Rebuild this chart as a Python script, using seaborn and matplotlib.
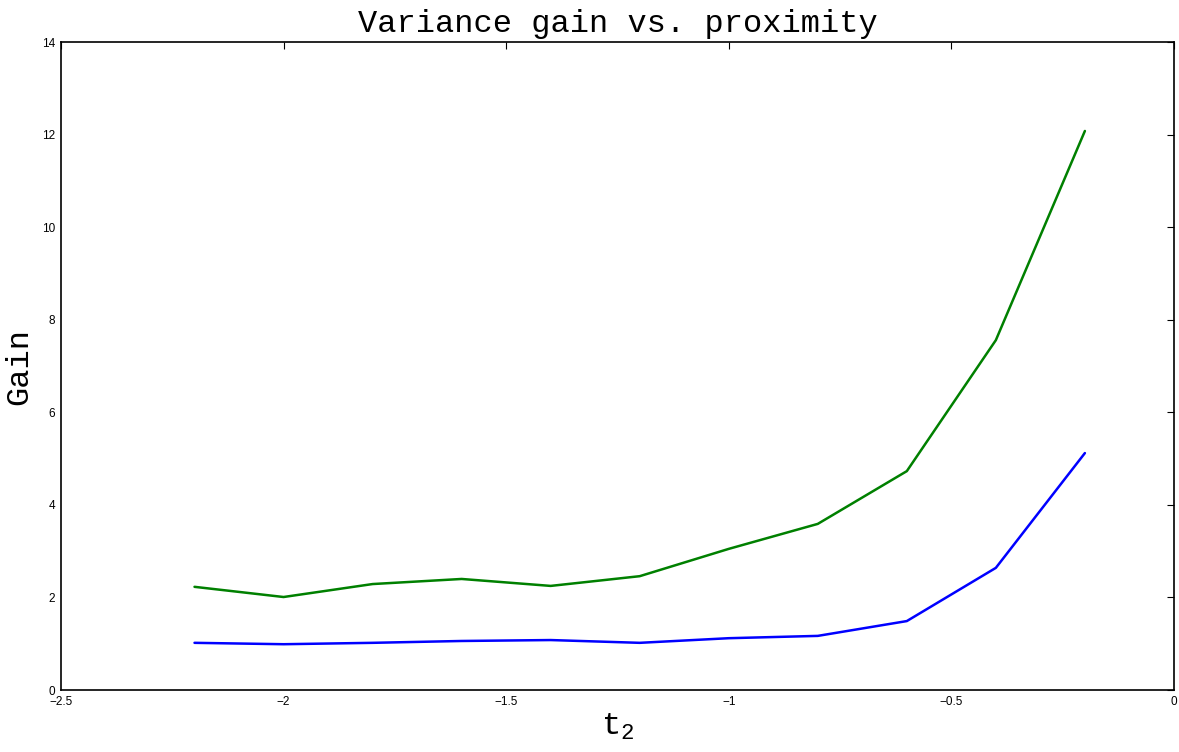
import numpy as np
import pandas as pd
import seaborn as sns
import matplotlib
matplotlib.use("Agg")
import matplotlib.pyplot as plt

# data
t2 = [-2.2, -2.0, -1.8, -1.6, -1.4, -1.2, -1.0, -0.8, -0.6, -0.4, -0.2]
gain_blue = [1.02, 0.99, 1.02, 1.06, 1.08, 1.02, 1.12, 1.17, 1.49, 2.64, 5.12]
gain_green = [2.23, 2.01, 2.29, 2.40, 2.25, 2.46, 3.05, 3.59, 4.73, 7.56, 12.08]
xticks = [-2.5, -2, -1.5, -1, -0.5, 0]
yticks = [0, 2, 4, 6, 8, 10, 12, 14]

df = pd.DataFrame({
    "t2": t2 * 2,
    "gain": gain_blue + gain_green,
    "series": ["blue"] * len(t2) + ["green"] * len(t2),
})

sns.set_style("white")
plt.rcParams["font.family"] = ["Liberation Sans", "DejaVu Sans"]
plt.rcParams["text.color"] = "black"
plt.rcParams["xtick.color"] = "black"
plt.rcParams["ytick.color"] = "black"
plt.rcParams["mathtext.fontset"] = "custom"
plt.rcParams["mathtext.rm"] = "Liberation Mono"
plt.rcParams["mathtext.it"] = "Liberation Mono"

fig = plt.figure(figsize=(11.79, 7.52), dpi=100)
ax = fig.add_axes([0.0517, 0.0824, 0.944, 0.8616])

sns.lineplot(data=df, x="t2", y="gain", hue="series",
             palette={"blue": "#0000ff", "green": "#008000"},
             linewidth=1.8, legend=False, ax=ax)

ax.set_xlim(-2.5, 0)
ax.set_ylim(0, 14)
ax.set_xticks(xticks)
ax.set_xticklabels(["\u22122.5", "\u22122", "\u22121.5", "\u22121", "\u22120.5", "0"])
ax.set_yticks(yticks)
ax.tick_params(direction="in", length=5, width=0.8, labelsize=8.5,
               top=True, right=True, pad=4)
for s in ax.spines.values():
    s.set_linewidth(1.2)
    s.set_color("black")

mono = {"family": "Liberation Mono", "size": 23, "color": "black"}
ax.set_title("Variance gain vs. proximity", fontdict=mono, pad=7)
ax.set_xlabel(r"$\mathregular{t_2}$", fontdict=mono, labelpad=3)
ax.set_ylabel("Gain", fontdict=mono, labelpad=6)

fig.savefig("out.png", dpi=100)
